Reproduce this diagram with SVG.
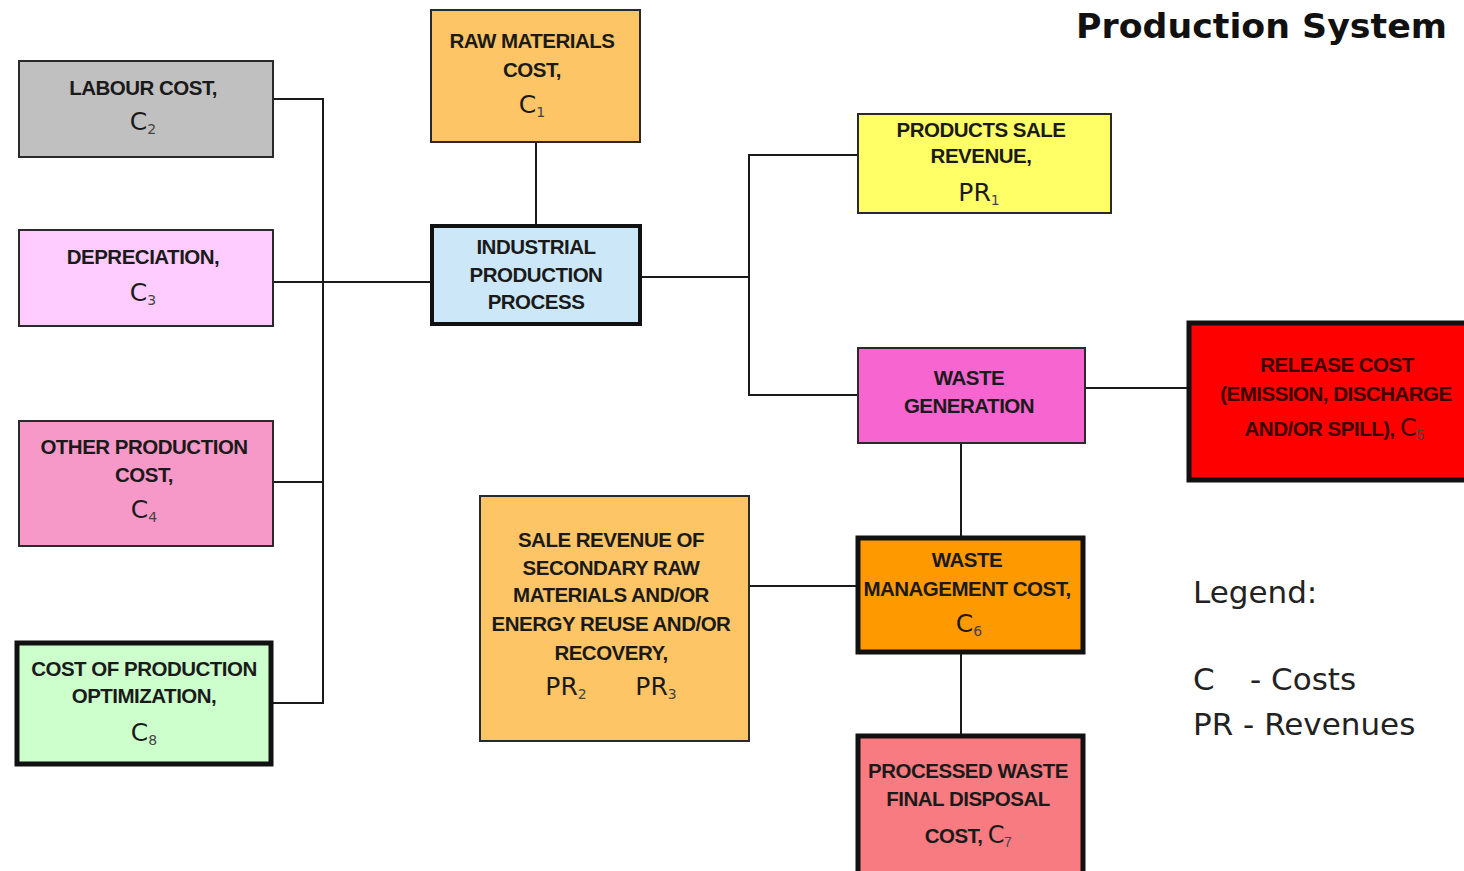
<svg xmlns="http://www.w3.org/2000/svg" width="1464" height="871" viewBox="0 0 1464 871">
<style>
.thin{stroke:#2a2a2a;stroke-width:2}
.thick{stroke:#111;stroke-width:5}
.t{font-family:"Liberation Sans",Arial,sans-serif;font-weight:bold;font-size:20.5px;fill:#1a1a1a;text-anchor:middle;letter-spacing:-0.5px}
.c{font-family:"DejaVu Sans",Verdana,sans-serif;font-size:25px;fill:#1a1a1a;text-anchor:middle}
.sub{font-size:14px;fill:#444}
.conn line{stroke:#1a1a1a;stroke-width:2}
.leg{font-family:"DejaVu Sans",Tahoma,sans-serif;font-size:31px;fill:#222}
</style>
<rect width="1464" height="871" fill="#ffffff"/>
<g class="conn" id="connectors">
<line x1="323" y1="98" x2="323" y2="704"/>
<line x1="273" y1="99" x2="324" y2="99"/>
<line x1="273" y1="282" x2="431" y2="282"/>
<line x1="270" y1="482" x2="324" y2="482"/>
<line x1="272" y1="703" x2="324" y2="703"/>
<line x1="536" y1="142" x2="536" y2="225"/>
<line x1="641" y1="277" x2="749" y2="277"/>
<line x1="749" y1="154" x2="749" y2="396"/>
<line x1="748" y1="155" x2="857" y2="155"/>
<line x1="748" y1="395" x2="857" y2="395"/>
<line x1="1085" y1="388" x2="1187" y2="388"/>
<line x1="961" y1="443" x2="961" y2="536"/>
<line x1="749" y1="586" x2="856" y2="586"/>
<line x1="961" y1="654" x2="961" y2="734"/>
</g>
<g id="labour">
<rect x="19" y="61" width="254" height="96" fill="#c0c0c0" class="thin"/>
<text class="t" x="143" y="95">LABOUR COST,</text>
<text class="c" x="143" y="130">C<tspan class="sub" dy="4">2</tspan></text>
</g>
<g id="depreciation">
<rect x="19" y="230" width="254" height="96" fill="#ffccff" class="thin"/>
<text class="t" x="143" y="264">DEPRECIATION,</text>
<text class="c" x="143" y="301">C<tspan class="sub" dy="4">3</tspan></text>
</g>
<g id="other">
<rect x="19" y="421" width="254" height="125" fill="#f799c8" class="thin"/>
<text class="t" x="144" y="454">OTHER PRODUCTION</text>
<text class="t" x="144" y="482">COST,</text>
<text class="c" x="144" y="518">C<tspan class="sub" dy="4">4</tspan></text>
</g>
<g id="optimization">
<rect x="17" y="643" width="254" height="121" fill="#ccffcc" class="thick"/>
<text class="t" x="144" y="676">COST OF PRODUCTION</text>
<text class="t" x="144" y="703">OPTIMIZATION,</text>
<text class="c" x="144" y="741">C<tspan class="sub" dy="4">8</tspan></text>
</g>
<g id="rawmaterials">
<rect x="431" y="10" width="209" height="132" fill="#fdc565" class="thin"/>
<text class="t" x="532" y="48">RAW MATERIALS</text>
<text class="t" x="532" y="77">COST,</text>
<text class="c" x="532" y="113">C<tspan class="sub" dy="4">1</tspan></text>
</g>
<g id="industrial">
<rect x="432" y="226" width="208" height="98" fill="#cce8f8" class="thick" style="stroke-width:4"/>
<text class="t" x="536" y="254">INDUSTRIAL</text>
<text class="t" x="536" y="282">PRODUCTION</text>
<text class="t" x="536" y="309">PROCESS</text>
</g>
<g id="products">
<rect x="858" y="114" width="253" height="99" fill="#ffff66" class="thin"/>
<text class="t" x="981" y="137">PRODUCTS SALE</text>
<text class="t" x="981" y="163">REVENUE,</text>
<text class="c" x="979" y="201">PR<tspan class="sub" dy="4">1</tspan></text>
</g>
<g id="wastegen">
<rect x="858" y="348" width="227" height="95" fill="#f765d0" class="thin"/>
<text class="t" x="969" y="385">WASTE</text>
<text class="t" x="969" y="413">GENERATION</text>
</g>
<g id="release">
<rect x="1189" y="323" width="280" height="157" fill="#ff0000" class="thick"/>
<text class="t" x="1337" y="372" style="fill:#3a0000">RELEASE COST</text>
<text class="t" x="1336" y="401" style="fill:#3a0000">(EMISSION, DISCHARGE</text>
<text class="t" x="1334" y="436" style="fill:#3a0000">AND/OR SPILL), <tspan style="font-family:'DejaVu Sans',sans-serif;font-weight:normal;font-size:24px">C</tspan><tspan class="sub" dy="4" style="font-weight:normal">5</tspan></text>
</g>
<g id="secondary">
<rect x="480" y="496" width="269" height="245" fill="#fdc565" class="thin"/>
<text class="t" x="611" y="547">SALE REVENUE OF</text>
<text class="t" x="611" y="575">SECONDARY RAW</text>
<text class="t" x="611" y="602">MATERIALS AND/OR</text>
<text class="t" x="611" y="631">ENERGY REUSE AND/OR</text>
<text class="t" x="611" y="660">RECOVERY,</text>
<text class="c" x="566" y="695">PR<tspan class="sub" dy="4">2</tspan></text>
<text class="c" x="656" y="695">PR<tspan class="sub" dy="4">3</tspan></text>
</g>
<g id="wastemgmt">
<rect x="858" y="538" width="225" height="114" fill="#ff9900" class="thick"/>
<text class="t" x="967" y="567">WASTE</text>
<text class="t" x="967" y="596">MANAGEMENT COST,</text>
<text class="c" x="969" y="632">C<tspan class="sub" dy="4">6</tspan></text>
</g>
<g id="processed">
<rect x="858" y="736" width="225" height="145" fill="#f77b80" class="thick"/>
<text class="t" x="968" y="778">PROCESSED WASTE</text>
<text class="t" x="968" y="806">FINAL DISPOSAL</text>
<text class="t" x="968" y="843">COST, <tspan style="font-family:'DejaVu Sans',sans-serif;font-weight:normal;font-size:24px">C</tspan><tspan class="sub" dy="4" style="font-weight:normal">7</tspan></text>
</g>
<g id="title">
<text x="1076" y="38" textLength="371" lengthAdjust="spacingAndGlyphs" style="font-family:'DejaVu Sans',Verdana,sans-serif;font-weight:bold;font-size:34px;fill:#111">Production System</text>
</g>
<g id="legend">
<text class="leg" x="1193" y="603">Legend:</text>
<text class="leg" x="1193" y="690">C</text>
<text class="leg" x="1250" y="690">- Costs</text>
<text class="leg" x="1193" y="735">PR - Revenues</text>
</g>
</svg>
